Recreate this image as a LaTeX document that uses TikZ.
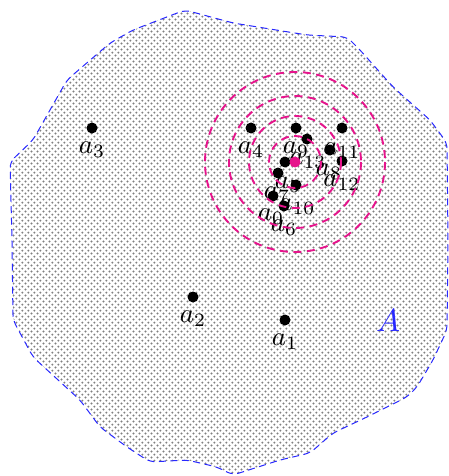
\documentclass[tikz,border=0pt]{standalone}
\usepackage{graphicx}
\usetikzlibrary{patterns}
\definecolor{mag}{RGB}{230,20,140}
\definecolor{bdry}{RGB}{40,40,255}
\pgfdeclarepatternformonly{bigdots}{\pgfpointorigin}{\pgfqpoint{6.4pt}{6.4pt}}{\pgfqpoint{6.4pt}{6.4pt}}{%
  \pgfpathcircle{\pgfqpoint{1.6pt}{1.6pt}}{1.2pt}%
  \pgfpathcircle{\pgfqpoint{4.8pt}{4.8pt}}{1.2pt}%
  \pgfusepath{fill}}
\newcommand\plabel[1]{\scalebox{2.7}{$#1$}}
\tikzset{
  pt/.style={circle,fill=black,inner sep=0pt,minimum size=11pt},
  lab/.style={inner sep=0pt},
  ring/.style={draw=mag,dash pattern=on 8pt off 5.5pt,line width=1.9pt},
  region/.style={pattern=bigdots,pattern color=gray,draw=bdry,dash pattern=on 7pt off 4.5pt,line width=1pt,rounded corners=6pt}
}
\begin{document}
\begin{tikzpicture}[x=1pt,y=-1pt]
\useasboundingbox (0,0) rectangle (448,476);
\path[region] (10,162) -- (33,140) -- (67,80) -- (110,43) -- (133,30) -- (185,10) -- (233,23) -- (307,35) -- (347,37) -- (360,50) -- (393,87) -- (430,120) -- (447,143) -- (448,240) -- (447,330) -- (433,360) -- (417,387) -- (407,397) -- (367,417) -- (333,433) -- (310,453) -- (280,460) -- (233,475) -- (217,467) -- (187,460) -- (150,462) -- (127,447) -- (100,427) -- (80,400) -- (33,357) -- (13,320) -- (12,240) -- cycle;
\node[lab,text=bdry] (A) at (388,321) {\scalebox{3.2}{$A$}};
% labels
\node[lab] (l1) at (285,342) {\plabel{a_1}};
\node[lab] (l2) at (193,319) {\plabel{a_2}};
\node[lab] (l3) at (92,150) {\plabel{a_3}};
\node[lab] (l4) at (251,150) {\plabel{a_4}};
\node[lab] (l9) at (296,150) {\plabel{a_9}};
\node[lab] (l11) at (342,151) {\plabel{a_{11}}};
\node[lab] (l13) at (308,161) {\plabel{a_{13}}};
\node[lab] (l8) at (329,172) {\plabel{a_8}};
\node[lab] (l12) at (342,183) {\plabel{a_{12}}};
\node[lab] (l5) at (288,185) {\plabel{a_5}};
\node[lab] (l7) at (277,195) {\plabel{a_7}};
\node[lab] (l10) at (297,207) {\plabel{a_{10}}};
\node[lab] (l0) at (271,217) {\plabel{a_0}};
\node[lab] (l6) at (284,228) {\plabel{a_6}};
% points
\node[pt] (p1) at (285,320) {};
\node[pt] (p2) at (193,297) {};
\node[pt] (p3) at (92,128) {};
\node[pt] (p4) at (251,128) {};
\node[pt] (p9) at (296,128) {};
\node[pt] (p11) at (342,128) {};
\node[pt] (p13) at (307,139) {};
\node[pt] (p8) at (330,150) {};
\node[pt] (p12) at (342,161) {};
\node[pt] (p5) at (285,162) {};
\node[pt] (p7) at (278,173) {};
\node[pt] (p10) at (296,185) {};
\node[pt] (p0) at (273,196) {};
\node[pt] (p6) at (284,206) {};
% rings
\node[pt,fill=mag] (c) at (295,162) {};
\draw[ring] (c.center) circle[radius=90];
\draw[ring] (c.center) circle[radius=66];
\draw[ring] (c.center) circle[radius=46];
\draw[ring] (c.center) circle[radius=26];
\end{tikzpicture}
\end{document}
